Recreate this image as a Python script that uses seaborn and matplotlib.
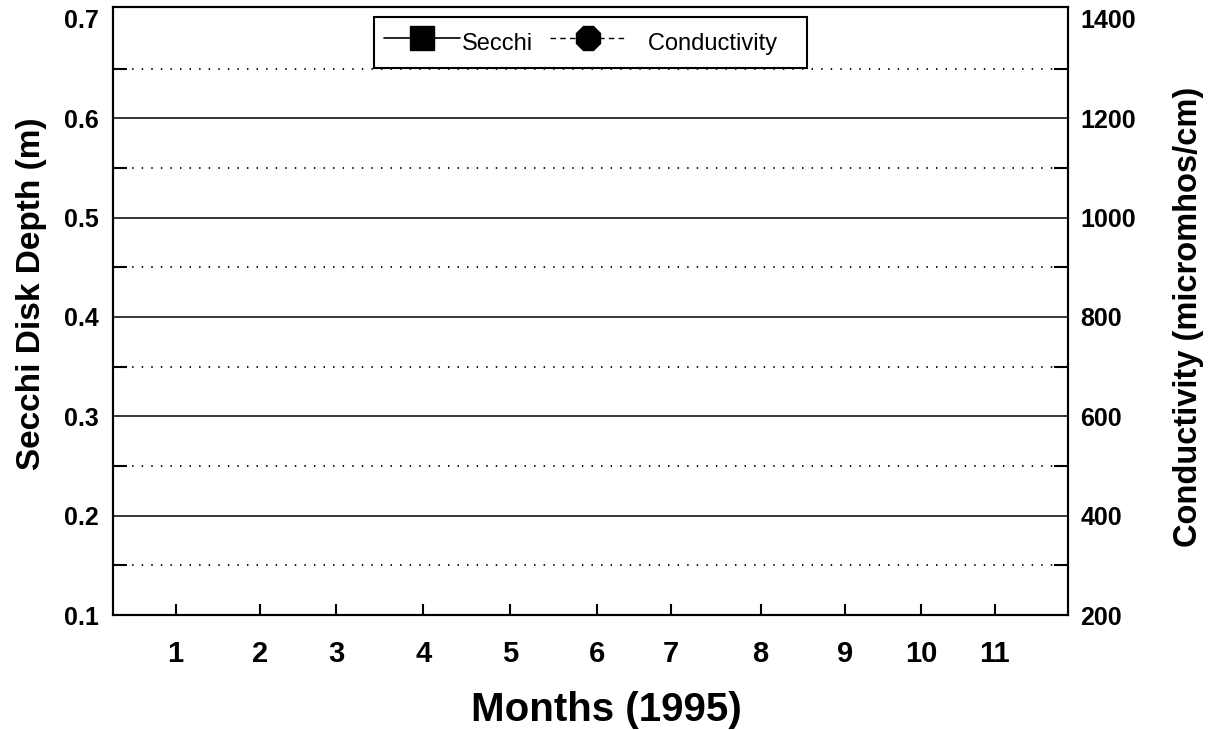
import matplotlib
matplotlib.use("Agg")
import matplotlib.pyplot as plt
import seaborn as sns
import pandas as pd
from matplotlib.lines import Line2D
from matplotlib.ticker import FixedLocator

# ---- data ----
month_labels = ["1", "2", "3", "4", "5", "6", "7", "8", "9", "10", "11"]
sample_day = [23, 54, 82, 114, 146, 178, 205, 238, 269, 297, 324]  # day-of-year of monthly samples
secchi_depth_m = []      # no Secchi points are drawn in the reference
conductivity_umhos = []  # no conductivity points are drawn in the reference
series_labels = ["Secchi", "   Conductivity   "]
left_ticks = [0.1, 0.2, 0.3, 0.4, 0.5, 0.6, 0.7]
left_tick_labels = ["0.1", "0.2", "0.3", "0.4", "0.5", "0.6", "0.7"]
right_ticks = [200, 400, 600, 800, 1000, 1200, 1400]
right_tick_labels = ["200", "400", "600", "800", "1000", "1200", "1400"]

sns.set_style("white")
plt.rcParams['font.family'] = ['Liberation Sans', 'DejaVu Sans']
plt.rcParams['text.color'] = 'black'
plt.rcParams['axes.labelcolor'] = 'black'
plt.rcParams['xtick.color'] = 'black'
plt.rcParams['ytick.color'] = 'black'

fig = plt.figure(figsize=(12.08, 7.30), dpi=100)
ax = fig.add_axes([0.0935, 0.1575, 0.7906, 0.8329])
ax2 = ax.twinx()

df_s = pd.DataFrame({"day": pd.Series(sample_day[:len(secchi_depth_m)], dtype=float),
                     "v": pd.Series(secchi_depth_m, dtype=float)})
df_c = pd.DataFrame({"day": pd.Series(sample_day[:len(conductivity_umhos)], dtype=float),
                     "v": pd.Series(conductivity_umhos, dtype=float)})
if len(df_s):
    sns.lineplot(data=df_s, x="day", y="v", ax=ax, color="black", marker="s", legend=False)
if len(df_c):
    sns.lineplot(data=df_c, x="day", y="v", ax=ax2, color="black", marker="o", linestyle="--", legend=False)

ax.set_xlim(0, 351)
ax.set_ylim(0.1, 0.712)
ax2.set_ylim(200, 1424)

# ticks
ax.xaxis.set_major_locator(FixedLocator(sample_day))
ax.set_xticklabels(month_labels, fontsize=21, fontweight="bold", color="black")
ax.tick_params(axis="x", which="major", direction="in", length=8, width=1.5, pad=18,
               bottom=True, top=False, colors="black")

ax.set_yticks(left_ticks)
ax.set_yticklabels(left_tick_labels, fontsize=18, fontweight="bold", color="black")
ax.yaxis.set_minor_locator(FixedLocator([0.15, 0.25, 0.35, 0.45, 0.55, 0.65]))
ax.tick_params(axis="y", which="major", length=0, pad=10, left=True, right=False)
ax.tick_params(axis="y", which="minor", direction="in", length=10, width=1.5, left=True, right=False)

ax2.set_yticks(right_ticks)
ax2.set_yticklabels(right_tick_labels, fontsize=18, fontweight="bold", color="black")
ax2.yaxis.set_minor_locator(FixedLocator([300, 500, 700, 900, 1100, 1300]))
ax2.tick_params(axis="y", which="major", length=0, pad=9)
ax2.tick_params(axis="y", which="minor", direction="in", length=10, width=1.5, right=True)

# grid
ax.grid(True, which="major", axis="y", color="black", linewidth=1.1, linestyle="-")
ax.grid(True, which="minor", axis="y", color="black", linewidth=1.3, linestyle=(0, (0.8, 4.5)))
ax.grid(False, axis="x")
ax2.grid(False)
fig.canvas.draw()
for val, gl in zip(ax.get_yticks(), ax.get_ygridlines()):
    if abs(val - 0.7) < 1e-9:
        gl.set_visible(False)

for a in (ax, ax2):
    for sp in a.spines.values():
        sp.set_color("black")
        sp.set_linewidth(1.5)
        sp.set_visible(True)

ax.set_xlabel("Months (1995)", fontsize=29, fontweight="bold")
ax.xaxis.set_label_coords(0.517, -0.125)
ax.set_ylabel("Secchi Disk Depth (m)", fontsize=24, fontweight="bold")
ax.yaxis.set_label_coords(-0.069, 0.528)
ax2.set_ylabel("Conductivity (micromhos/cm)", fontsize=23.5, fontweight="bold")
ax2.yaxis.set_label_coords(1.110, 0.49)

handles = [
    Line2D([], [], color="black", lw=1.2, marker="s", markersize=17, markerfacecolor="black"),
    Line2D([], [], color="black", lw=1.0, linestyle=(0, (4, 3)), marker="8", markersize=18,
           markerfacecolor="black"),
]
leg = ax2.legend(handles, series_labels, loc="upper center", bbox_to_anchor=(0.5, 0.984),
                 ncol=2, frameon=True, fancybox=False, fontsize=17, handlelength=3.2,
                 handleheight=1.7, handletextpad=0.1, columnspacing=0.72, borderpad=0.42,
                 borderaxespad=0)
leg.get_frame().set_edgecolor("black")
leg.get_frame().set_linewidth(1.5)
leg.get_frame().set_alpha(1)

fig.savefig("out.png", dpi=100, facecolor="white")
